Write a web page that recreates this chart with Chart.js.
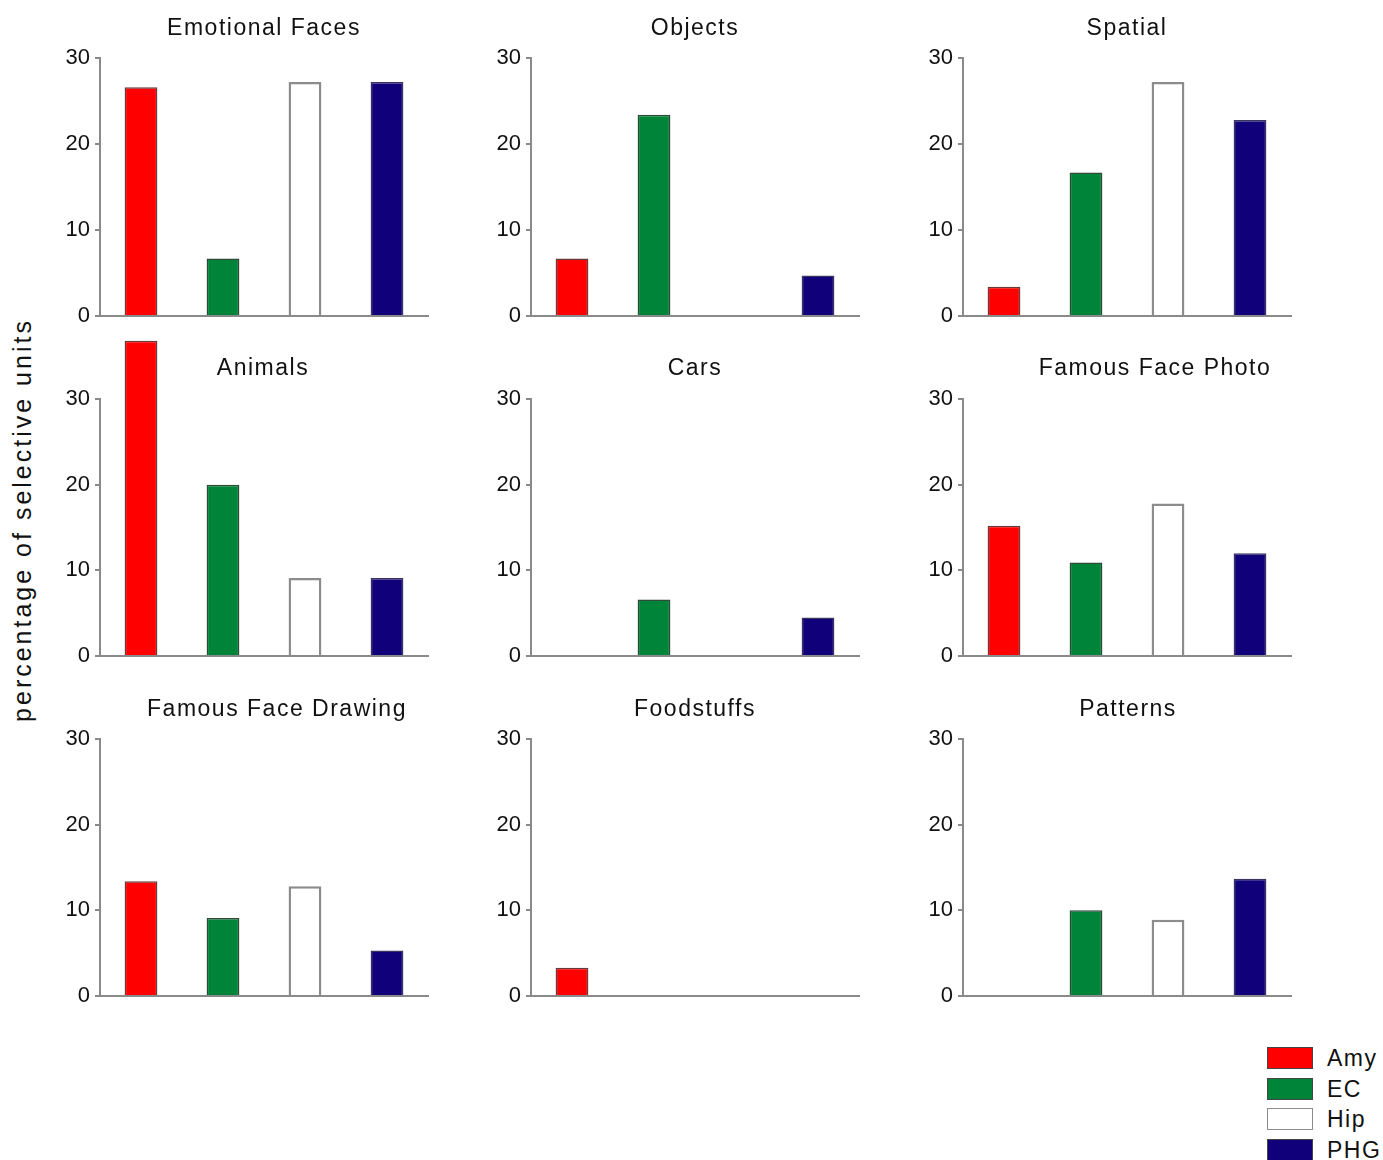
<!DOCTYPE html>
<html>
<head>
<meta charset="utf-8">
<script src="https://cdn.jsdelivr.net/npm/chart.js@4.4.0/dist/chart.umd.min.js"></script>
<style>
  body { margin: 0; background: #fff; }
  #page { position: relative; width: 1383px; height: 1160px; overflow: hidden; font-family: "Liberation Sans", Arial, sans-serif; color: #111; }
  canvas { position: absolute; }
  .panel-title { position: absolute; font-size: 23px; letter-spacing: 1.5px; line-height: 23px; white-space: nowrap; transform: translateX(-50%); }
  #y-label { position: absolute; left: 22px; top: 520px; font-size: 25px; letter-spacing: 3px; white-space: nowrap; transform: translate(-50%, -50%) rotate(-90deg); }
  .legend-box { position: absolute; left: 1267px; width: 44px; height: 20px; border: 1px solid #444; }
  .legend-text { position: absolute; left: 1327px; font-size: 23px; letter-spacing: 1.5px; line-height: 22px; white-space: nowrap; }
</style>
</head>
<body>
<div id="page">
  <div id="y-label">percentage of selective units</div>
</div>
<script>
// data
const panelTitles = ["Emotional Faces", "Objects", "Spatial", "Animals", "Cars", "Famous Face Photo", "Famous Face Drawing", "Foodstuffs", "Patterns"];
const regions = ["Amy", "EC", "Hip", "PHG"];
const amyValues = [26.6, 6.7, 3.4, 36.8, 0, 15.2, 13.4, 3.3, 0];
const ecValues = [6.7, 23.4, 16.7, 20.0, 6.6, 10.9, 9.1, 0, 10.0];
const hipValues = [27.2, 0, 27.2, 9.1, 0, 17.8, 12.8, 0, 8.9];
const phgValues = [27.2, 4.7, 22.8, 9.1, 4.5, 12.0, 5.3, 0, 13.7];
const yTickLabels = ["0", "10", "20", "30"];

const regionColors = ["#ff0000", "#00843a", "#ffffff", "#10007a"];
const regionBorders = ["#6a3a3a", "#2f4a38", "#8c8c8c", "#3a3460"];
const regionBorderWidths = [1.5, 1.5, 2.5, 1.5];

// layout of the 3x3 grid (y axis x, top of axis, zero line)
const colAxisX = [100, 531, 963];
const rowTopY = [58, 399, 739];
const rowZeroY = [316, 656, 996];
const titleCenterX = [264, 695, 1127, 263, 695, 1155, 277, 695, 1128];
const titleCenterY = [27, 367, 708];

const AXIS_W = 60;
const PLOT_W = 328;
const PAD_TOP = 62;
const PAD_RIGHT = 10;
const X_AXIS_H = 20;
const axisColor = "#8a8a8a";
const fontFamily = "'Liberation Sans', Arial, sans-serif";

const page = document.querySelector("#page");

panelTitles.forEach((title, i) => {
  const col = i % 3;
  const row = Math.floor(i / 3);
  const plotH = rowZeroY[row] - rowTopY[row];

  const canvas = document.createElement("canvas");
  canvas.width = AXIS_W + PLOT_W + PAD_RIGHT;
  canvas.height = PAD_TOP + plotH + X_AXIS_H;
  canvas.style.left = colAxisX[col] - AXIS_W + "px";
  canvas.style.top = rowTopY[row] - PAD_TOP + "px";
  page.appendChild(canvas);

  const titleDiv = document.createElement("div");
  titleDiv.className = "panel-title";
  titleDiv.textContent = title;
  titleDiv.style.left = titleCenterX[i] + "px";
  titleDiv.style.top = titleCenterY[row] - 11 + "px";
  page.appendChild(titleDiv);

  createPanel(canvas, [amyValues[i], ecValues[i], hipValues[i], phgValues[i]]);
});

function createPanel(canvas, values) {
  return new Chart(canvas.getContext("2d"), {
    type: "bar",
    data: {
      labels: regions,
      datasets: [
        {
          data: values,
          backgroundColor: regionColors,
          borderColor: regionBorders,
          borderWidth: regionBorderWidths,
          barPercentage: 0.4,
          categoryPercentage: 1,
          clip: false,
        },
      ],
    },
    options: {
      responsive: false,
      animation: false,
      layout: { padding: { top: PAD_TOP, right: PAD_RIGHT, left: 0, bottom: 0 } },
      plugins: { legend: { display: false }, tooltip: { enabled: false }, title: { display: false } },
      scales: {
        x: {
          ticks: { display: false },
          grid: { display: false },
          border: { display: true, color: axisColor, width: 2 },
          afterFit: (scale) => { scale.height = X_AXIS_H; },
        },
        y: {
          min: 0,
          max: 30,
          ticks: {
            stepSize: 10,
            padding: 5,
            color: "#111",
            font: { family: fontFamily, size: 22 },
            callback: (value) => yTickLabels[value / 10],
          },
          grid: { drawOnChartArea: false, drawTicks: true, tickLength: 5, color: axisColor, lineWidth: 2 },
          border: { display: true, color: axisColor, width: 2 },
          afterFit: (scale) => { scale.width = AXIS_W; },
        },
      },
    },
  });
}

// legend
regions.forEach((region, i) => {
  const top = 1047 + i * 30.5;
  const box = document.createElement("div");
  box.className = "legend-box";
  box.style.top = top + "px";
  box.style.background = regionColors[i];
  if (i == 2) box.style.borderColor = "#8c8c8c";
  page.appendChild(box);

  const text = document.createElement("div");
  text.className = "legend-text";
  text.style.top = top + "px";
  text.textContent = region;
  page.appendChild(text);
});
</script>
</body>
</html>
